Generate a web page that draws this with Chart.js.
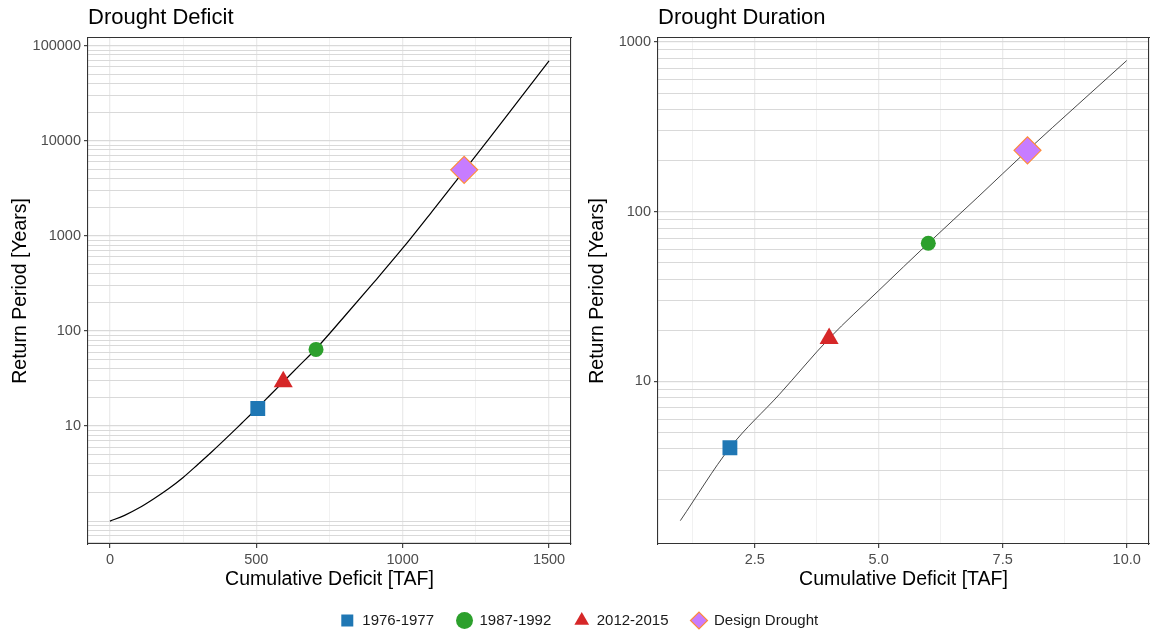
<!DOCTYPE html>
<html>
<head>
<meta charset="utf-8">
<script src="https://cdn.jsdelivr.net/npm/chart.js@4.4.1/dist/chart.umd.min.js"></script>
<style>
  html, body { margin: 0; padding: 0; background: #ffffff; width: 1150px; height: 633px; overflow: hidden; }
  #wrap { position: relative; width: 1150px; height: 633px; overflow: hidden; }
  .box { position: absolute; }
</style>
</head>
<body>
<div id="wrap">
  <div class="box" style="left:0;top:590px;width:1150px;height:110px"><canvas id="legendChart"></canvas></div>
  <div class="box" style="left:0;top:0;width:575px;height:600px"><canvas id="deficitChart"></canvas></div>
  <div class="box" style="left:575px;top:0;width:575px;height:600px"><canvas id="durationChart"></canvas></div>
</div>
<script>
// ---------------- data ----------------
const seriesNames = ["1976-1977", "1987-1992", "2012-2015", "Design Drought"];

// Drought Deficit panel: historical events (cumulative deficit TAF, return period years)
const deficitEventX = [505, 704, 592, 1210];
const deficitEventY = [15.3, 64, 29.3, 4950];
// fitted frequency curve
const deficitCurveX = [0, 50, 100, 150, 200, 250, 300, 350, 400, 450, 500, 550, 600, 650, 700, 800, 900, 1000, 1100, 1200, 1300, 1400, 1500];
const deficitCurveY = [1.0, 1.15, 1.38, 1.72, 2.19, 2.88, 3.94, 5.43, 7.59, 10.7, 15.1, 21.6, 30.9, 44.2, 63.1, 141, 320, 741, 1800, 4420, 10970, 27540, 69180];

// Drought Duration panel
const durationEventX = [2, 6, 4, 8];
const durationEventY = [4.06, 65.2, 17.9, 230];
const durationCurveX = [1, 2, 3, 4, 5, 6, 7, 8, 9, 10];
const durationCurveY = [1.51, 4.06, 8.4, 17.9, 34.3, 65.2, 122, 230, 424, 778];

// tick labels
const deficitXTickLabels = [0, 500, 1000, 1500];
const deficitXMinorTicks = [250, 750, 1250];
const deficitYTickLabels = [10, 100, 1000, 10000, 100000];
const durationXTickLabels = [2.5, 5.0, 7.5, 10.0];
const durationXMinorTicks = [1.25, 3.75, 6.25, 8.75];
const durationYTickLabels = [10, 100, 1000];

// ---------------- styles ----------------
const FONT = "'Liberation Sans', Arial, Helvetica, sans-serif";
Chart.defaults.font.family = FONT;
const seriesStyles = ["rect", "circle", "triangle", "rectRot"];
const seriesFill = ["#1F77B4", "#2CA02C", "#D62728", "#C77CFF"];
const seriesStroke = ["#1F77B4", "#2CA02C", "#D62728", "#FF8C3A"];
const seriesStrokeWidth = [0, 0, 0, 1.2];
const markerRadius = [10.5, 7.5, 11, 13.5];

const near = (a, b) => Math.abs(a - b) <= 1e-9 * Math.max(1, Math.abs(b));
const isIn = (list, v) => list.some(l => near(v, l));

function logGridValues(min, max) {
  const out = [];
  for (let e = -2; e <= 6; e++) {
    for (let m = 1; m <= 9; m++) {
      const v = +(m * Math.pow(10, e)).toPrecision(6);
      if (v >= min && v <= max) out.push(v);
    }
  }
  return out;
}

function buildPanel(canvasId, p) {
  const yGrid = logGridValues(p.yMin, p.yMax);
  const xGrid = [...p.xLabels, ...p.xMinor].sort((a, b) => a - b);

  const datasets = seriesNames.map((name, i) => ({
    label: name,
    data: [{ x: p.ex[i], y: p.ey[i] }],
    pointStyle: seriesStyles[i],
    pointRadius: markerRadius[i],
    pointHoverRadius: markerRadius[i],
    pointBackgroundColor: seriesFill[i],
    pointBorderColor: seriesStroke[i],
    pointBorderWidth: seriesStrokeWidth[i],
    xAxisID: 'x', yAxisID: 'y',
    order: 0
  }));
  datasets.push({
    label: 'curve',
    data: p.cx.map((x, i) => ({ x: x, y: p.cy[i] })),
    showLine: true,
    pointRadius: 0,
    borderColor: p.lineColor,
    borderWidth: p.lineWidth,
    cubicInterpolationMode: 'monotone',
    xAxisID: 'x', yAxisID: 'y',
    order: 5
  });

  return new Chart(document.getElementById(canvasId), {
    type: 'scatter',
    data: { datasets },
    options: {
      responsive: true,
      maintainAspectRatio: false,
      animation: false,
      devicePixelRatio: 1,
      events: [],
      layout: { autoPadding: false, padding: { left: 0, right: p.padRight, top: 0, bottom: 0 } },
      plugins: {
        legend: { display: false },
        tooltip: { enabled: false },
        title: {
          display: true, text: p.title, align: 'start', fullSize: false,
          color: '#000000', font: { size: 22, weight: 'normal' },
          padding: { top: 5, bottom: 6.4 }
        }
      },
      scales: {
        x: {
          type: 'linear', position: 'bottom', min: p.xMin, max: p.xMax,
          afterBuildTicks: s => { s.ticks = xGrid.map(v => ({ value: v })); },
          afterFit: s => { s.height = 56; s.paddingLeft = 0; s.paddingRight = 0; },
          ticks: {
            autoSkip: false, maxRotation: 0, minRotation: 0, padding: 3,
            color: '#4D4D4D', font: { size: 14.5 },
            callback: v => isIn(p.xLabels, v) ? p.xFmt(v) : ''
          },
          grid: {
            color: '#EBEBEB',
            lineWidth: c => (c.tick && isIn(p.xLabels, c.tick.value)) ? 1.3 : 0.7,
            tickLength: 4, tickWidth: 1.1,
            tickColor: c => (c.tick && isIn(p.xLabels, c.tick.value)) ? '#333333' : 'rgba(0,0,0,0)'
          },
          border: { display: true, color: '#333333', width: 1.1 },
          title: {
            display: true, text: 'Cumulative Deficit [TAF]', color: '#000000',
            font: { size: 19.5 }, padding: { top: 0, bottom: 9 }
          }
        },
        y: {
          type: 'logarithmic', position: 'left', min: p.yMin, max: p.yMax,
          afterBuildTicks: s => { s.ticks = yGrid.map(v => ({ value: v })); },
          afterFit: s => { s.width = p.yWidth; s.paddingTop = 0; s.paddingBottom = 0; },
          ticks: {
            autoSkip: false, padding: 3, color: '#4D4D4D', font: { size: 14.5 },
            callback: v => isIn(p.yLabels, v) ? String(Math.round(v)) : ''
          },
          grid: {
            color: '#D9D9D9',
            lineWidth: c => (c.tick && isIn(p.yLabels, c.tick.value)) ? 1.3 : 1.0,
            tickLength: 4, tickWidth: 1.1,
            tickColor: c => (c.tick && isIn(p.yLabels, c.tick.value)) ? '#333333' : 'rgba(0,0,0,0)'
          },
          border: { display: true, color: '#333333', width: 1.1 },
          title: {
            display: true, text: 'Return Period [Years]', color: '#000000',
            font: { size: 19.5 }, padding: { top: p.yTitlePad, bottom: 0 }
          }
        },
        x2: {
          type: 'linear', position: 'top', display: true,
          ticks: { display: false }, grid: { drawOnChartArea: false, drawTicks: false },
          border: { display: true, color: '#333333', width: 1.1 },
          afterFit: s => { s.height = 0; s.paddingLeft = 0; s.paddingRight = 0; }
        },
        y2: {
          type: 'linear', position: 'right', display: true,
          ticks: { display: false }, grid: { drawOnChartArea: false, drawTicks: false },
          border: { display: true, color: '#333333', width: 1.1 },
          afterFit: s => { s.width = 0; s.paddingTop = 0; s.paddingBottom = 0; }
        }
      }
    }
  });
}

buildPanel('deficitChart', {
  title: 'Drought Deficit',
  ex: deficitEventX, ey: deficitEventY, cx: deficitCurveX, cy: deficitCurveY,
  xMin: -75, xMax: 1575, yMin: 0.575, yMax: 121000,
  xLabels: deficitXTickLabels, xMinor: deficitXMinorTicks, yLabels: deficitYTickLabels,
  xFmt: v => String(Math.round(v)),
  yWidth: 88, padRight: 4, yTitlePad: 8.5,
  lineColor: '#000000', lineWidth: 1.2
});

buildPanel('durationChart', {
  title: 'Drought Duration',
  ex: durationEventX, ey: durationEventY, cx: durationCurveX, cy: durationCurveY,
  xMin: 0.55, xMax: 10.45, yMin: 1.1, yMax: 1060,
  xLabels: durationXTickLabels, xMinor: durationXMinorTicks, yLabels: durationYTickLabels,
  xFmt: v => v.toFixed(1),
  yWidth: 83, padRight: 1, yTitlePad: 10.5,
  lineColor: '#333333', lineWidth: 0.9
});

new Chart(document.getElementById('legendChart'), {
  type: 'scatter',
  data: {
    datasets: seriesNames.map((n, i) => ({
      label: n, data: [], pointStyle: seriesStyles[i],
      backgroundColor: seriesFill[i], borderColor: seriesStroke[i]
    }))
  },
  options: {
    responsive: true, maintainAspectRatio: false, animation: false, devicePixelRatio: 1, events: [],
    layout: { autoPadding: false, padding: { left: 8, top: 0, right: 0, bottom: 0 } },
    scales: { x: { display: false }, y: { display: false } },
    plugins: {
      tooltip: { enabled: false },
      title: { display: false },
      legend: {
        display: true, position: 'top', align: 'center',
        labels: {
          usePointStyle: true, boxWidth: 15, boxHeight: 12, padding: 23,
          color: '#1A1A1A', font: { size: 15 },
          generateLabels: () => seriesNames.map((n, i) => ({
            text: n, fillStyle: seriesFill[i], strokeStyle: seriesStroke[i],
            lineWidth: seriesStrokeWidth[i], pointStyle: seriesStyles[i],
            hidden: false, datasetIndex: i, fontColor: '#1A1A1A'
          }))
        }
      }
    }
  }
});
</script>
</body>
</html>
